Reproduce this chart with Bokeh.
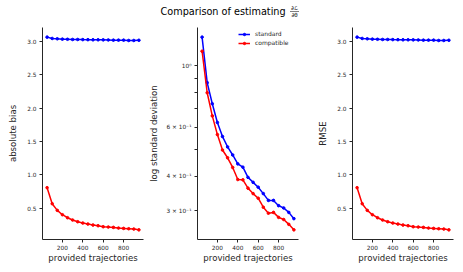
from bokeh.plotting import figure
from bokeh.layouts import column, row
from bokeh.models import (Range1d, FixedTicker, NumeralTickFormatter, Legend,
                          LegendItem, Label, BoxAnnotation)
from bokeh.embed import file_html
from bokeh.resources import INLINE
import math

# ---------------- data ----------------
trajectories = [50, 100, 150, 200, 250, 300, 350, 400, 450, 500,
                550, 600, 650, 700, 750, 800, 850, 900, 950]

bias_standard = [3.065, 3.045, 3.04, 3.035, 3.033, 3.03, 3.03, 3.028, 3.027, 3.025,
                 3.025, 3.024, 3.023, 3.02, 3.02, 3.02, 3.015, 3.015, 3.018]
bias_compatible = [0.81, 0.57, 0.47, 0.405, 0.36, 0.325, 0.30, 0.28, 0.265, 0.25,
                   0.24, 0.225, 0.22, 0.215, 0.205, 0.20, 0.195, 0.19, 0.178]

std_standard = [1.27, 0.87, 0.73, 0.625, 0.556, 0.51, 0.477, 0.443, 0.431, 0.396,
                0.38, 0.365, 0.346, 0.327, 0.327, 0.313, 0.307, 0.296, 0.281]
std_compatible = [1.13, 0.80, 0.66, 0.565, 0.497, 0.466, 0.43, 0.389, 0.388, 0.362,
                  0.346, 0.333, 0.309, 0.294, 0.296, 0.284, 0.279, 0.268, 0.256]

rmse_standard = [3.065, 3.045, 3.04, 3.035, 3.033, 3.03, 3.03, 3.028, 3.027, 3.025,
                 3.025, 3.024, 3.023, 3.02, 3.02, 3.02, 3.015, 3.015, 3.018]
rmse_compatible = [0.81, 0.57, 0.47, 0.405, 0.36, 0.325, 0.30, 0.28, 0.265, 0.25,
                   0.24, 0.225, 0.22, 0.215, 0.205, 0.20, 0.195, 0.19, 0.178]

x_ticks = [200, 400, 600, 800]
lin_y_ticks = [0.5, 1.0, 1.5, 2.0, 2.5, 3.0]
log_y_ticks = [0.3, 0.4, 0.5, 0.6, 0.7, 0.8, 0.9, 1.0]
log_y_labels = {0.3: "3 × 10⁻¹", 0.4: "4 × 10⁻¹", 0.5: "", 0.6: "6 × 10⁻¹",
                0.7: "", 0.8: "", 0.9: "", 1.0: "10⁰"}
series_names = ["standard", "compatible"]
series_colors = ["#0000ff", "#ff0000"]
title_main = "Comparison of estimating"
title_num = "∂ℒ"
title_den = "∂θ"

FONT = "DejaVu Sans"
INK = "#262626"


def margins(lo, hi, frac=0.05):
    pad = (hi - lo) * frac
    return lo - pad, hi + pad


def style(p, ylabel, label_standoff):
    p.outline_line_color = None
    p.grid.visible = False
    for ax in p.axis:
        ax.axis_line_color = INK
        ax.axis_line_width = 1
        ax.major_tick_line_color = INK
        ax.major_tick_out = 3
        ax.major_tick_in = 0
        ax.minor_tick_out = 0
        ax.minor_tick_in = 0
        ax.major_label_text_font = FONT
        ax.major_label_text_font_size = "5.8px"
        ax.major_label_text_color = INK
        ax.major_label_standoff = 3
        ax.axis_label_text_font = FONT
        ax.axis_label_text_font_size = "8.6px"
        ax.axis_label_text_font_style = "normal"
        ax.axis_label_text_color = INK
    p.xaxis.ticker = FixedTicker(ticks=x_ticks, minor_ticks=[])
    p.xaxis.axis_label = "provided trajectories"
    p.xaxis.major_label_standoff = 2
    p.xaxis.axis_label_standoff = 0
    p.yaxis.axis_label = ylabel
    p.yaxis.axis_label_standoff = label_standoff


xr = margins(min(trajectories), max(trajectories))
ROW_H = 252
B_TOP = 7
B_BOT = 33


def linear_panel(ylabel, ys_std, ys_cmp, width, bl, br, standoff):
    lo, hi = margins(min(ys_std + ys_cmp), max(ys_std + ys_cmp))
    p = figure(width=width, height=ROW_H, x_range=Range1d(*xr), y_range=Range1d(lo, hi),
               toolbar_location=None, output_backend="svg",
               min_border_left=bl, min_border_right=br,
               min_border_top=B_TOP, min_border_bottom=B_BOT)
    for ys, c in zip([ys_std, ys_cmp], series_colors):
        p.line(trajectories, ys, color=c, line_width=1.5)
        p.scatter(trajectories, ys, color=c, size=2.6, marker="circle")
    p.yaxis.ticker = FixedTicker(ticks=lin_y_ticks, minor_ticks=[])
    p.yaxis.formatter = NumeralTickFormatter(format="0.0")
    style(p, ylabel, standoff)
    return p


p1 = linear_panel("absolute bias", bias_standard, bias_compatible, 145, 42, 2, 6)
p3 = linear_panel("RMSE", rmse_standard, rmse_compatible, 149, 38, 10, 6)

# log panel
llo, lhi = margins(math.log10(min(std_standard + std_compatible)),
                   math.log10(max(std_standard + std_compatible)))
p2 = figure(width=169, height=ROW_H, x_range=Range1d(*xr),
            y_range=Range1d(10 ** llo, 10 ** lhi), y_axis_type="log",
            toolbar_location=None, output_backend="svg",
            min_border_left=52, min_border_right=16,
            min_border_top=B_TOP, min_border_bottom=B_BOT)
items = []
for name, ys, c in zip(series_names, [std_standard, std_compatible], series_colors):
    r1 = p2.line(trajectories, ys, color=c, line_width=1.5)
    r2 = p2.scatter(trajectories, ys, color=c, size=2.6, marker="circle")
    items.append(LegendItem(label=name, renderers=[r1, r2]))
p2.yaxis.ticker = FixedTicker(ticks=log_y_ticks, minor_ticks=[])
p2.yaxis.major_label_overrides = log_y_labels
style(p2, "log standard deviation", 5)
legend = Legend(items=items, location=(41, 193), border_line_color=None,
                background_fill_alpha=0, label_text_font=FONT,
                label_text_font_size="6px", label_text_color=INK,
                glyph_width=12, glyph_height=6, label_height=6, label_standoff=5,
                spacing=2, padding=2, margin=0)
p2.add_layout(legend)

# title strip
pt = figure(width=463, height=20, x_range=Range1d(0, 463), y_range=Range1d(0, 20),
            x_axis_type=None, y_axis_type=None, toolbar_location=None,
            output_backend="svg", min_border=0, outline_line_color=None)
pt.add_layout(Label(x=160, y=9, x_units="screen", y_units="screen", text=title_main,
                    text_font=FONT, text_font_size="9.7px", text_color="#000000",
                    text_align="left", text_baseline="middle"))
pt.add_layout(Label(x=294, y=12.6, x_units="screen", y_units="screen", text=title_num,
                    text_font=FONT, text_font_size="5.5px", text_color="#000000",
                    text_align="center", text_baseline="middle"))
pt.add_layout(Label(x=294, y=5.4, x_units="screen", y_units="screen", text=title_den,
                    text_font=FONT, text_font_size="5.5px", text_color="#000000",
                    text_align="center", text_baseline="middle"))
pt.add_layout(BoxAnnotation(left=289.5, right=298.5, bottom=8.9, top=9.5,
                            left_units="screen", right_units="screen",
                            bottom_units="screen", top_units="screen",
                            fill_color="#000000", fill_alpha=1, line_color=None))

layout = column(pt, row(p1, p2, p3, spacing=0), spacing=0)
open("out.html", "w").write(file_html(layout, INLINE))
